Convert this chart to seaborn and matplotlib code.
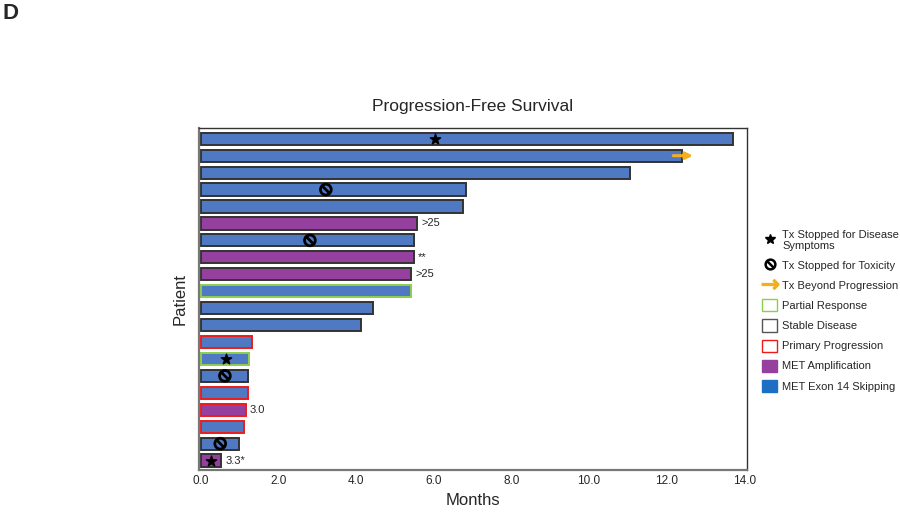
import numpy as np
import pandas as pd
import matplotlib
matplotlib.use("Agg")
import matplotlib.pyplot as plt
from matplotlib.patches import Patch
from matplotlib.lines import Line2D
from matplotlib.path import Path
import seaborn as sns

# data, top bar first
patients = ["P%d" % i for i in range(1, 21)]
months = [13.7, 12.4, 11.05, 6.83, 6.75, 5.57, 5.49, 5.49, 5.41, 5.41,
          4.43, 4.12, 1.31, 1.24, 1.21, 1.21, 1.16, 1.11, 0.98, 0.52]
alteration = ["Exon14", "Exon14", "Exon14", "Exon14", "Exon14", "Amp", "Exon14", "Amp", "Amp", "Exon14",
              "Exon14", "Exon14", "Exon14", "Exon14", "Exon14", "Exon14", "Amp", "Exon14", "Exon14", "Amp"]
response = ["SD", "SD", "SD", "SD", "SD", "SD", "SD", "SD", "SD", "PR",
            "SD", "SD", "PD", "PR", "SD", "PD", "PD", "PD", "SD", "SD"]

star_rows = [0, 13, 19]
star_x = [6.02, 0.64, 0.25]
tox_rows = [3, 6, 14, 18]
tox_x = [3.22, 2.81, 0.62, 0.50]
arrow_row = 1
arrow_from, arrow_to = 12.1, 12.75

note_rows = [5, 7, 8, 16, 19]
note_text = [">25", "**", ">25", "3.0", "3.3*"]

fill_colors = {"Exon14": "#5079c4", "Amp": "#953f9e"}
edge_colors = {"SD": "#333333", "PR": "#8ccf4a", "PD": "#ee1b1b"}
orange = "#f4b01c"

sns.set_style("white")
plt.rcParams['font.family'] = ['Liberation Sans', 'DejaVu Sans']

fig = plt.figure(figsize=(9, 5.13), dpi=100)
ax = fig.add_axes([0.221, 0.084, 0.609, 0.667])

df = pd.DataFrame({"patient": patients, "months": months})
sns.barplot(data=df, x="months", y="patient", orient="h", color=fill_colors["Exon14"],
            width=0.72, edgecolor="#333333", linewidth=1.4, ax=ax)

for i, p in enumerate(ax.patches):
    p.set_facecolor(fill_colors[alteration[i]])
    p.set_edgecolor(edge_colors[response[i]])

# symbols on bars
ax.scatter(star_x, star_rows, marker="*", s=60, color="black", zorder=5)
tox_marker = Path.make_compound_path(Path.circle((0, 0), 1.0),
                                     Path([(-0.7, 0.7), (0.7, -0.7)]))
ax.scatter(tox_x, tox_rows, marker=tox_marker, s=60, facecolors="none",
           edgecolors="black", linewidths=2.0, zorder=5)
ax.annotate("", xy=(arrow_to, arrow_row), xytext=(arrow_from, arrow_row),
            arrowprops=dict(arrowstyle="-|>", color=orange, lw=2.2, mutation_scale=10))

for r, t in zip(note_rows, note_text):
    ax.annotate(t, xy=(months[r], r), xytext=(3, 0), textcoords="offset points",
                va="center", ha="left", fontsize=8)

ax.set_xlim(-0.05, 14.07)
ax.set_ylim(19.55, -0.65)
ax.set_xticks(np.arange(0, 15, 2))
ax.set_xticklabels(["%.1f" % v for v in np.arange(0, 15, 2)], fontsize=8.5)
ax.tick_params(axis="x", length=0, pad=4)
ax.set_yticks([])
ax.set_xlabel("Months", fontsize=12)
ax.set_ylabel("Patient", fontsize=12, labelpad=8)
ax.set_title("Progression-Free Survival", fontsize=12.5, pad=12)
for s in ["top", "right"]:
    ax.spines[s].set_color("#333333")
    ax.spines[s].set_linewidth(1.0)
for s in ["left", "bottom"]:
    ax.spines[s].set_color("#777777")
    ax.spines[s].set_linewidth(1.6)

handles = [
    Line2D([], [], linestyle="none", marker="*", color="black", markersize=7),
    Line2D([], [], linestyle="none", marker=tox_marker, markerfacecolor="none",
           markeredgecolor="black", markeredgewidth=1.8, markersize=7),
    Line2D([], [], linestyle="none", marker=r"$\rightarrow$", color=orange, markersize=12),
    Patch(facecolor="white", edgecolor="#8ccf4a"),
    Patch(facecolor="white", edgecolor="#555555"),
    Patch(facecolor="white", edgecolor="#ee1b1b"),
    Patch(facecolor="#953f9e", edgecolor="#953f9e"),
    Patch(facecolor="#1c6fc2", edgecolor="#1c6fc2"),
]
labels = ["Tx Stopped for Disease\nSymptoms", "Tx Stopped for Toxicity", "Tx Beyond Progression",
          "Partial Response", "Stable Disease", "Primary Progression",
          "MET Amplification", "MET Exon 14 Skipping"]
fig.legend(handles, labels, loc="upper left", bbox_to_anchor=(0.836, 0.572), frameon=False,
           fontsize=8, handlelength=1.3, handleheight=1.3, handletextpad=0.5, labelspacing=0.72)

fig.text(0.003, 0.995, "D", fontsize=16, fontweight="bold", va="top", ha="left")

fig.savefig("out.png", dpi=100)
